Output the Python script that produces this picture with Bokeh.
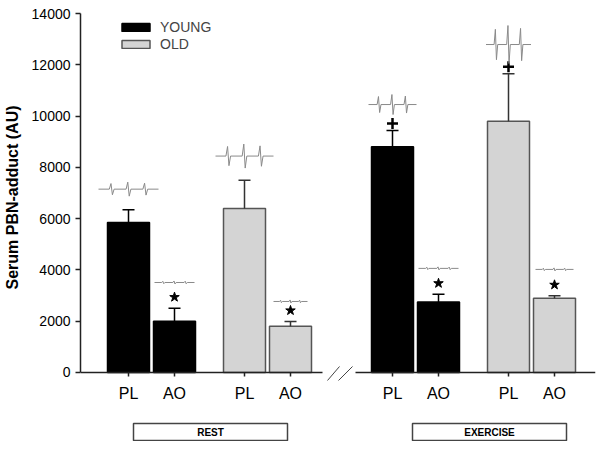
from bokeh.plotting import figure
from bokeh.models import Range1d, FixedTicker, ColumnDataSource, Legend, LegendItem
from bokeh.layouts import column
from bokeh.embed import file_html
from bokeh.resources import INLINE
from bokeh.core.properties import value

# ---------------- data ----------------
conditions = ["REST", "EXERCISE"]
groups = ["YOUNG", "OLD"]
treatments = ["PL", "AO"]

# order: REST-PL, REST-AO, EXERCISE-PL, EXERCISE-AO
young_mean = [5850, 2000, 8800, 2750]
young_sem = [500, 510, 640, 300]
old_mean = [6400, 1800, 9800, 2900]
old_sem = [1100, 190, 1850, 90]
young_sig = ["", "*", "+", "*"]
old_sig = ["", "*", "+", "*"]

# EPR spectrum insets above each bar: baseline level (AU), half height (px), width (px)
young_spec_level = [7150, 3510, 10450, 4060]
old_spec_level = [8440, 2770, 12790, 4020]
young_spec_amp = [7, 1.5, 10, 1.5]
old_spec_amp = [12, 1.5, 19, 1.5]
young_spec_width = [60, 40, 48, 40]
old_spec_width = [58, 34, 45, 38]

y_ticks = [0, 2000, 4000, 6000, 8000, 10000, 12000, 14000]

# ---------------- layout constants ----------------
FONT = "Liberation Sans"
UPP = 39.0            # data units per pixel (y)
BAR_W = 42
X0, COND_STEP, GRP_STEP, TRT_STEP = 48, 264, 116, 46
BOX_OFFSETS = [1, 16]
BOX_W = 154
GREY = "#d4d4d4"
GREY_LINE = "#555555"
LEFT = 80

xs, tops, errs, fills, lines, sigs, labels, whisk = [], [], [], [], [], [], [], []
spec_xs, spec_ys = [], []
grp_data = {
    "YOUNG": (young_mean, young_sem, young_sig, young_spec_level, young_spec_amp, young_spec_width, "black", "black", "black"),
    "OLD": (old_mean, old_sem, old_sig, old_spec_level, old_spec_amp, old_spec_width, GREY, GREY_LINE, "#333333"),
}
sources = {g: dict(x=[], top=[]) for g in groups}
feat_c = [-0.28, 0.0, 0.28]
feat_h = [0.8, 1.0, 0.85]
for c in range(2):
    for g_i, g in enumerate(groups):
        mean, sem, sig, lev, amp, wid, fc, lc, wc = grp_data[g]
        for t in range(2):
            k = c * 2 + t
            x = X0 + c * COND_STEP + g_i * GRP_STEP + t * TRT_STEP
            xs.append(x); tops.append(mean[k]); errs.append(sem[k])
            fills.append(fc); lines.append(lc); sigs.append(sig[k]); whisk.append(wc)
            labels.append(treatments[t])
            sources[g]["x"].append(x); sources[g]["top"].append(mean[k])
            # spectrum polyline
            sx = [x - wid[k] / 2]
            sy = [lev[k]]
            for fcn, fh in zip(feat_c, feat_h):
                for rel, yy in ((-0.04, 0), (-0.012, fh), (0.012, -fh), (0.04, 0)):
                    sx.append(x + (fcn + rel) * wid[k])
                    sy.append(lev[k] + yy * amp[k] * UPP)
            sx.append(x + wid[k] / 2); sy.append(lev[k])
            spec_xs.append(sx); spec_ys.append(sy)

# ---------------- main figure ----------------
p = figure(width=596, height=406, x_range=Range1d(0, 515), y_range=Range1d(-390, 14039),
           output_backend="svg", toolbar_location=None,
           min_border_left=LEFT, min_border_right=1, min_border_top=12, min_border_bottom=24)
p.outline_line_color = None
p.grid.visible = False
p.background_fill_color = "white"

ry = p.vbar(x="x", top="top", width=BAR_W, bottom=0, source=ColumnDataSource(sources["YOUNG"]),
            fill_color="black", line_color="black", line_width=1.5)
ro = p.vbar(x="x", top="top", width=BAR_W, bottom=0, source=ColumnDataSource(sources["OLD"]),
            fill_color=GREY, line_color=GREY_LINE, line_width=1.5)

# error bars (upper only)
err_top = [t + e for t, e in zip(tops, errs)]
p.segment(x0=xs, y0=tops, x1=xs, y1=err_top, line_color=whisk, line_width=1.5)
p.segment(x0=[x - 6 for x in xs], y0=err_top, x1=[x + 6 for x in xs], y1=err_top,
          line_color=whisk, line_width=1.5)

# significance markers
st_x = [x for x, s in zip(xs, sigs) if s == "*"]
st_y = [y + 11 * UPP for y, s in zip(err_top, sigs) if s == "*"]
p.scatter(st_x, st_y, marker="star", size=10, fill_color="black", line_color="black")
pl_x = [x for x, s in zip(xs, sigs) if s == "+"]
pl_y = [y + 7 * UPP for y, s in zip(err_top, sigs) if s == "+"]
p.scatter(pl_x, pl_y, marker="cross", size=11, line_color="black", line_width=2.5)

# spectra insets
p.multi_line(xs=spec_xs, ys=spec_ys, line_color="#8a8a8a", line_width=1)

# x axis line with break, ticks
brk_l, brk_r = 242, 275
p.segment(x0=[0, brk_r], y0=[0, 0], x1=[brk_l, 515], y1=[0, 0], line_color="#222222", line_width=1.5)
p.segment(x0=[brk_l + 5, brk_l + 16], y0=[-8 * UPP] * 2, x1=[brk_l + 17, brk_l + 30], y1=[6 * UPP] * 2,
          line_color="#444444", line_width=1)
p.segment(x0=xs, y0=[0] * len(xs), x1=xs, y1=[-4 * UPP] * len(xs), line_color="#222222", line_width=1.5)

# axes
p.xaxis.ticker = FixedTicker(ticks=xs)
p.xaxis.major_label_overrides = {x: l for x, l in zip(xs, labels)}
p.xaxis.axis_line_color = None
p.xaxis.major_tick_line_color = None
p.xaxis.minor_tick_line_color = None
p.xaxis.major_tick_out = 0
p.xaxis.major_tick_in = 0
p.xaxis.major_label_standoff = 2
p.xaxis.major_label_text_font = FONT
p.xaxis.major_label_text_font_size = "16px"
p.xaxis.major_label_text_color = "black"

p.yaxis.ticker = FixedTicker(ticks=y_ticks)
p.yaxis.bounds = (0, 14000)
p.yaxis.minor_tick_line_color = None
p.yaxis.major_tick_out = 5
p.yaxis.major_tick_in = 0
p.yaxis.axis_line_width = 1.5
p.yaxis.major_tick_line_width = 1.5
p.yaxis.axis_line_color = "#222222"
p.yaxis.major_tick_line_color = "#222222"
p.yaxis.major_label_standoff = 5
p.yaxis.major_label_text_font = FONT
p.yaxis.major_label_text_font_size = "14px"
p.yaxis.major_label_text_color = "black"
p.yaxis.axis_label = "Serum PBN-adduct (AU)"
p.yaxis.axis_label_text_font = FONT
p.yaxis.axis_label_text_font_size = "16px"
p.yaxis.axis_label_text_font_style = "bold"
p.yaxis.axis_label_text_color = "black"
p.yaxis.axis_label_standoff = 8

legend = Legend(items=[LegendItem(label="YOUNG", renderers=[ry]), LegendItem(label="OLD", renderers=[ro])],
                location=(38, 330), glyph_width=35, glyph_height=10, label_height=17, spacing=0,
                padding=0, margin=0, label_standoff=7, border_line_color=None,
                background_fill_alpha=0, label_text_font=FONT, label_text_font_size="14px")
p.add_layout(legend)

# ---------------- condition boxes ----------------
p2 = figure(width=596, height=35, x_range=p.x_range, y_range=Range1d(0, 35),
            output_backend="svg", toolbar_location=None, x_axis_type=None, y_axis_type=None,
            min_border_left=LEFT, min_border_right=1, min_border_top=0, min_border_bottom=0)
p2.outline_line_color = None
p2.grid.visible = False
centers = []
for c in range(2):
    cx = [x for i, x in enumerate(xs) if i // 4 == c]
    centers.append(sum(cx) / len(cx) + BOX_OFFSETS[c])
p2.quad(left=[cc - BOX_W / 2 for cc in centers], right=[cc + BOX_W / 2 for cc in centers],
        bottom=1, top=18, fill_color="white", line_color="#444444", line_width=1.5)
p2.text(x=centers, y=[9.5, 9.5], text=conditions, text_align="center", text_baseline="middle",
        text_font=value(FONT), text_font_size="10px", text_font_style="bold", text_color="black")

layout = column(p, p2, spacing=0)
open("out.html", "w").write(file_html(layout, INLINE))
